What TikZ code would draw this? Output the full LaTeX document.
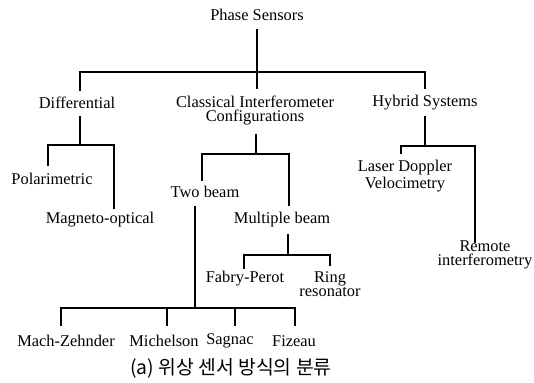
\documentclass[tikz,border=0pt]{standalone}
\usepackage{fontspec}
\setmainfont{Liberation Serif}
\newfontfamily\kr{Noto Sans CJK KR}
\begin{document}
\begin{tikzpicture}[x=0.75pt,y=-0.75pt,
  lbl/.style={font=\fontsize{12.3}{10.5}\selectfont, inner sep=0pt, align=center},
  edge/.style={line width=1.2pt, line cap=rect}]
\useasboundingbox (0,0) rectangle (534,382);
% nodes
\node[lbl] (root) at (257,15) {Phase Sensors};
\node[lbl] (diff) at (77,103) {Differential};
\node[lbl] (cic) at (255,110) {Classical Interferometer\\Configurations};
\node[lbl] (hyb) at (425,103) {Hybrid Systems};
\node[lbl] (pol) at (52,179) {Polarimetric};
\node[lbl] (mag) at (100,220) {Magneto-optical};
\node[lbl] (two) at (205,192) {Two beam};
\node[lbl] (mul) at (282,220) {Multiple beam};
\node[lbl] (ldv) at (405,176) {Laser Doppler\\Velocimetry};
\node[lbl] (rem) at (485,255) {Remote\\interferometry};
\node[lbl] (fp) at (245,279) {Fabry-Perot};
\node[lbl] (ring) at (330,284) {Ring\\resonator};
\node[lbl] (mz) at (66,341) {Mach-Zehnder};
\node[lbl] (mich) at (164,341) {Michelson};
\node[lbl] (sag) at (230,341) {Sagnac};
\node[lbl] (fiz) at (294,341) {Fizeau};
\node[inner sep=0pt, font=\kr\fontsize{14.5}{16}\selectfont] (cap) at (231,368) {(a) 위상 센서 방식의 분류};
% junctions
\coordinate (j0) at (257,72);
\coordinate (j1) at (80,145);
\coordinate (j2) at (256,154);
\coordinate (j3) at (425,146);
\coordinate (j4) at (288,255);
\coordinate (j5) at (195,308);
% root
\draw[edge] (root) ++(0,15) -- (j0);
\draw[edge] (j0) -| (80,90);
\draw[edge] (diff) ++(3,14) -- (j1);
\draw[edge] (j0) -- ++(0,16);
\draw[edge] (j0) -| (425,88);
% differential
\draw[edge] (j1) -| (48,165);
\draw[edge] (j1) -| (114,208);
% classical
\draw[edge] (cic) ++(1,25) -- (j2);
\draw[edge] (j2) -| (202,180);
\draw[edge] (j2) -| (289,205);
% hybrid
\draw[edge] (hyb) ++(0,14) -- (j3);
\draw[edge] (j3) -| (401,153);
\draw[edge] (j3) -| (475,242);
% two beam
\draw[edge] (two) ++(-10,15) -- (j5);
\draw[edge] (j5) -| (61,325);
\draw[edge] (j5) -| (295,325);
\draw[edge] (167,308) -- (167,325);
\draw[edge] (235,308) -- (235,325);
% multiple beam
\draw[edge] (mul) ++(6,15) -- (j4);
\draw[edge] (j4) -| (244,268);
\draw[edge] (j4) -| (330,265);
\end{tikzpicture}
\end{document}
